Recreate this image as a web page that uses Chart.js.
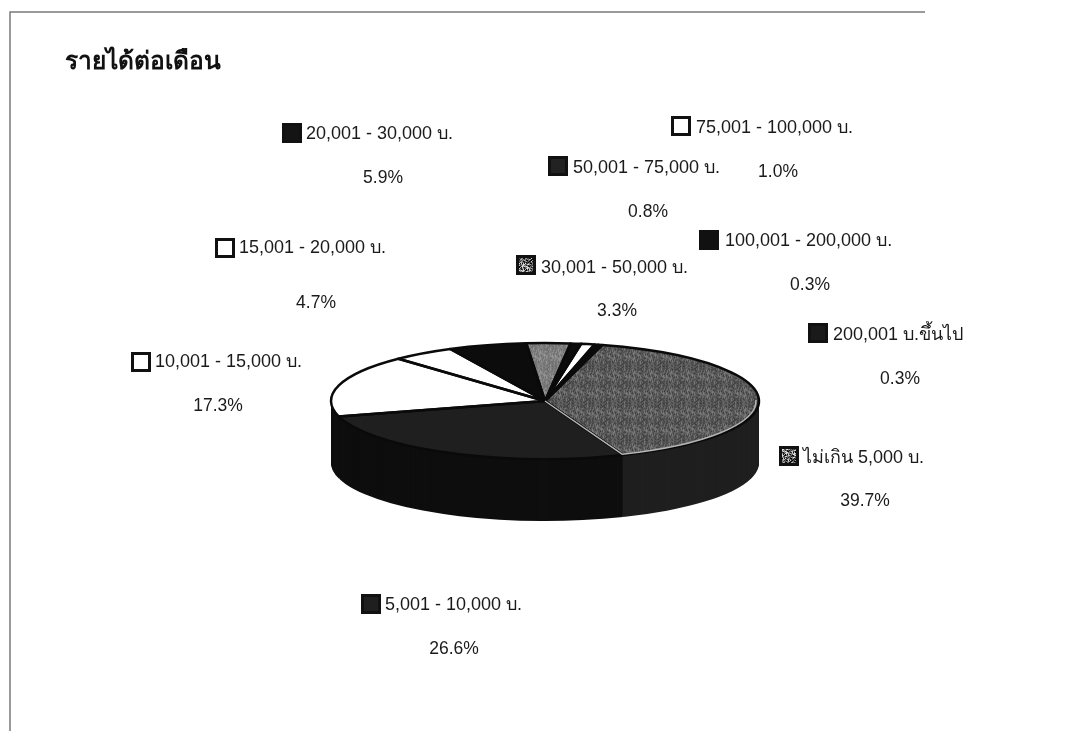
<!DOCTYPE html>
<html><head><meta charset="utf-8">
<style>html,body{margin:0;padding:0;background:#fff}canvas{display:block}</style>
<script src="https://cdn.jsdelivr.net/npm/chart.js@4"></script>
</head><body>
<div style="width:1072px;height:731px"><canvas id="c" width="1072" height="731"></canvas></div>
<script>
const titleText = 'รายได้ต่อเดือน';
const categories = ['ไม่เกิน 5,000 บ.','5,001 - 10,000 บ.','10,001 - 15,000 บ.','15,001 - 20,000 บ.','20,001 - 30,000 บ.','30,001 - 50,000 บ.','50,001 - 75,000 บ.','75,001 - 100,000 บ.','100,001 - 200,000 บ.','200,001 บ.ขึ้นไป'];
const percents = [39.7,26.6,17.3,4.7,5.9,3.3,0.8,1.0,0.3,0.3];

// layout of the free-floating labels: [box left, box top, text x, text y, percent centre x, percent y]
const labelLayout = [
  [779,446,803,458,865,501],[361,594,385,605,454,649],[131,352,155,362,218,406],
  [215,238,239,248,316,303],[282,123,306,134,383,178],[516,255,541,268,617,311],
  [548,156,573,168,648,212],[671,116,696,128,778,172],[699,230,725,241,810,285],
  [808,323,833,335,900,379]
];
const squash = 58/214, depth = 62;

function texture(base, spread, scaled){
  const p = document.createElement('canvas'); p.width = 37; p.height = 37;
  const g = p.getContext('2d');
  for(let y=0;y<37;y++)for(let x=0;x<37;x++){
    const h = ((x*x*13 + y*y*7 + x*y*11 + x*5 + y*3) % 17)/16 - .5;
    const v = Math.round(base + h*spread);
    g.fillStyle = `rgb(${v},${v},${v})`; g.fillRect(x,y,1,1);
  }
  const pat = g.createPattern(p,'repeat');
  if(scaled) pat.setTransform(new DOMMatrix().scale(1,1/squash));
  return pat;
}
const greyA = texture(92,70,true), greyB = texture(128,50,true);
const boxSpeckle = texture(110,230,false);
const fills = [greyA,'#1f1f1f','#ffffff','#ffffff','#0c0c0c',greyB,'#0c0c0c','#ffffff','#111111','#111111'];
const boxFills = [boxSpeckle,'#1f1f1f','#ffffff','#ffffff','#141414',boxSpeckle,'#222222','#ffffff','#111111','#1a1a1a'];
const sides = ['#1f1f1f','#0e0e0e','#0e0e0e','#0e0e0e','#0e0e0e','#0e0e0e','#0e0e0e','#0e0e0e','#0e0e0e','#0e0e0e'];

function arcPath(ctx,a,dy){
  ctx.save();
  ctx.translate(a.x,a.y+dy); ctx.scale(1,squash); ctx.translate(-a.x,-a.y);
  ctx.beginPath();
  ctx.moveTo(a.x,a.y);
  ctx.arc(a.x,a.y,a.outerRadius,a.startAngle,a.endAngle);
  ctx.closePath();
  ctx.restore();
}
const pie3d = {
  id:'pie3d',
  beforeDraw(chart){
    const c = chart.ctx;
    c.save();
    c.strokeStyle='#7a7a7a'; c.lineWidth=1.5;
    c.beginPath(); c.moveTo(10,731); c.lineTo(10,12); c.lineTo(925,12); c.stroke();
    c.fillStyle='#111'; c.textAlign='left'; c.textBaseline='middle';
    c.font='bold 24.5px "Liberation Sans", Arial, sans-serif';
    c.fillText(titleText,65,62);
    c.restore();
  },
  beforeDatasetsDraw(chart){
    const c = chart.ctx, arcs = chart.getDatasetMeta(0).data;
    for(let d=depth;d>=1;d--){
      arcs.forEach((a,i)=>{ arcPath(c,a,d); c.fillStyle=sides[i]; c.fill(); });
    }
    const a0 = arcs[0];
    c.save();
    c.translate(a0.x,a0.y); c.scale(1,squash); c.translate(-a0.x,-a0.y);
  },
  afterDatasetsDraw(chart){
    const c = chart.ctx, arcs = chart.getDatasetMeta(0).data;
    c.restore();
    c.save();
    c.strokeStyle='#0a0a0a'; c.lineJoin='round';
    arcs.forEach(a=>{ arcPath(c,a,0); c.lineWidth=2.5; c.stroke(); });
    // pale rim on the lit edges of the first slice
    const a = arcs[0], r = a.outerRadius-3;
    c.save();
    c.translate(a.x,a.y); c.scale(1,squash);
    c.beginPath();
    c.moveTo(0,0);
    c.lineTo(r*Math.cos(a.endAngle),r*Math.sin(a.endAngle));
    c.arc(0,0,r,a.endAngle,-0.02,true);
    c.restore();
    c.strokeStyle='#b5b5b5'; c.lineWidth=1.5; c.stroke();
    c.restore();
    // labels
    c.save();
    c.textBaseline='middle';
    categories.forEach((name,i)=>{
      const [bx,by,tx,ty,px,py] = labelLayout[i];
      c.fillStyle=boxFills[i]; c.fillRect(bx,by,20,20);
      c.strokeStyle='#111'; c.lineWidth=3; c.strokeRect(bx+1.5,by+1.5,17,17);
      c.fillStyle='#1a1a1a'; c.textAlign='left';
      c.font='18px "Liberation Sans", Arial, sans-serif';
      c.fillText(name,tx,ty);
      c.textAlign='center';
      c.font='17.5px "Liberation Sans", Arial, sans-serif';
      c.fillText(percents[i].toFixed(1)+'%',px,py);
    });
    c.restore();
  }
};
new Chart(document.getElementById('c'),{
  type:'pie',
  data:{labels:categories,datasets:[{data:percents,backgroundColor:fills,borderWidth:0,clip:false}]},
  options:{
    responsive:false,animation:false,rotation:15.5,
    layout:{padding:{top:187,bottom:116,left:331,right:313}},
    plugins:{legend:{display:false},tooltip:{enabled:false},title:{display:false}}
  },
  plugins:[pie3d]
});
</script>
</body></html>
